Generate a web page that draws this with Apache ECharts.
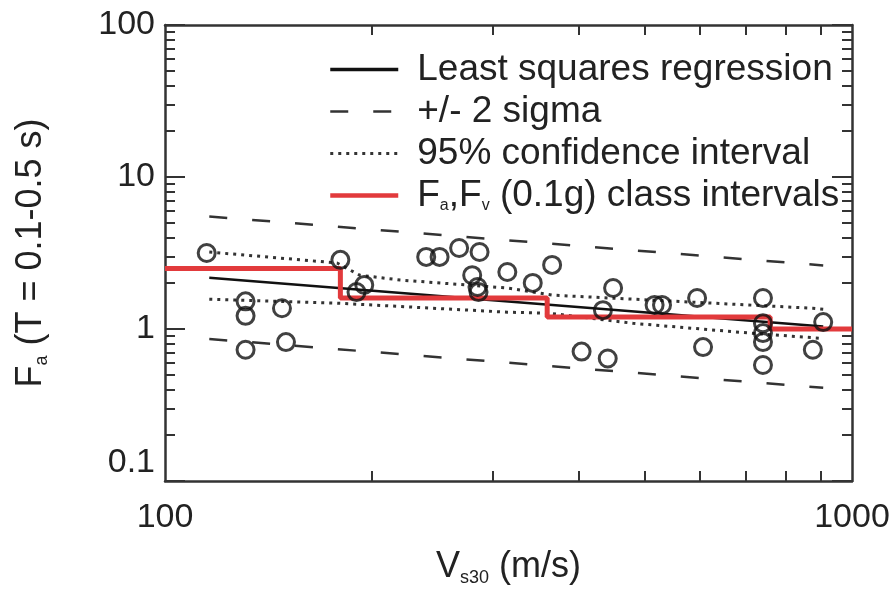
<!DOCTYPE html>
<html>
<head>
<meta charset="utf-8">
<script src="https://cdn.jsdelivr.net/npm/echarts@6/dist/echarts.min.js"></script>
<style>
  html, body { margin: 0; padding: 0; background: #fff; }
  #chart { width: 896px; height: 599px; }
</style>
</head>
<body>
<div id="chart"></div>
<script>
// site data: Vs30 (m/s) and Fa
var siteVs = [115, 131, 131, 131, 148, 150, 180, 190, 195, 240, 251, 268, 287, 280, 285, 286,
  315, 343, 366, 404, 441, 449, 434, 516, 529, 595, 607, 742, 742, 742, 742, 742, 908, 877];
var siteFa = [3.16, 1.52, 1.22, 0.73, 1.37, 0.82, 2.85, 1.75, 1.95, 2.98, 2.98, 3.41, 3.21, 2.26, 1.89, 1.75,
  2.37, 2.01, 2.64, 0.71, 0.64, 1.86, 1.33, 1.44, 1.44, 1.60, 0.76, 1.60, 1.09, 0.94, 0.82, 0.58, 1.11, 0.73];

// least squares regression and +/- 2 sigma (end points)
var regVs = [116, 908];
var regFa = [2.17, 1.04];
var sigmaUpFa = [5.5, 2.62];
var sigmaLoFa = [0.86, 0.41];

// 95% confidence interval
var ciUpVs = [116, 178, 192, 220, 315, 367, 877, 908];
var ciUpFa = [3.21, 2.72, 2.26, 2.10, 1.86, 1.67, 1.37, 1.35];
var ciLoVs = [116, 178, 315, 363, 480, 710, 897, 908];
var ciLoFa = [1.57, 1.48, 1.29, 1.27, 1.09, 0.94, 0.87, 0.86];

// NEHRP class intervals (0.1g)
var classBounds = [100, 180, 360, 760, 1000];
var classFa = [2.5, 1.6, 1.2, 1.0];

var font = '"Liberation Sans", Arial, Helvetica, sans-serif';
var ink = '#222';

function pairs(xs, ys) {
  var out = [];
  for (var i = 0; i < xs.length; i++) out.push([xs[i], ys[i]]);
  return out;
}

var stepPts = [];
for (var i = 0; i < classFa.length; i++) {
  stepPts.push([classBounds[i], classFa[i]]);
  stepPts.push([classBounds[i + 1], classFa[i]]);
}

// tick positions for the log decorations (log10 units)
var xMinor = [];
for (var k = 2; k <= 9; k++) xMinor.push(2 + Math.log10(k));
var yMinor = [];
for (var d = -1; d <= 1; d++) {
  for (var k2 = 2; k2 <= 9; k2++) yMinor.push(d + Math.log10(k2));
}

var frameLine = { show: true, onZero: false, lineStyle: { color: '#333', width: 2.5 } };

function tickAxis(min, max, pos, vals, len) {
  return {
    type: 'value', min: min, max: max, position: pos,
    axisLine: { show: false, onZero: false },
    axisTick: { show: true, inside: true, length: len, customValues: vals, lineStyle: { color: '#333', width: 2 } },
    axisLabel: { show: false },
    splitLine: { show: false }
  };
}

var chart = echarts.init(document.getElementById('chart'));

chart.setOption({
  backgroundColor: '#fff',
  animation: false,
  grid: { left: 165, right: 44, top: 25, bottom: 118, outerBoundsMode: 'none' },
  legend: {
    orient: 'vertical',
    left: 323,
    top: 46,
    itemWidth: 68,
    itemHeight: 14,
    itemGap: 5,
    itemStyle: { opacity: 0 },
    data: [
      { name: 'Least squares regression', lineStyle: { width: 3.5 } },
      { name: '+/- 2 sigma', lineStyle: { width: 2.5 } },
      { name: '95% confidence interval', lineStyle: { width: 3 } },
      { name: 'Fa,Fv (0.1g) class intervals', lineStyle: { width: 4.5 } }
    ],
    formatter: function (name) {
      if (name.indexOf('Fa,Fv') === 0) return 'F{sub|a},F{sub|v} (0.1g) class intervals';
      return name;
    },
    textStyle: {
      fontFamily: font, fontSize: 37, color: ink, lineHeight: 36, padding: [0, 0, 0, 14],
      rich: { sub: { fontFamily: font, fontSize: 16, color: ink, verticalAlign: 'bottom', lineHeight: 36 } }
    }
  },
  xAxis: [
    {
      type: 'log', logBase: 10, min: 100, max: 1000, position: 'bottom',
      axisLine: frameLine,
      axisTick: { show: false },
      axisLabel: {
        fontFamily: font, fontSize: 34, color: ink, margin: 20,
        formatter: function (v) { return String(Math.round(v)); }
      },
      splitLine: { show: false },
      name: 'V{sub|s30} (m/s)',
      nameLocation: 'middle',
      nameGap: 66,
      nameTextStyle: {
        fontFamily: font, fontSize: 36, color: ink,
        rich: { sub: { fontFamily: font, fontSize: 18, color: ink, verticalAlign: 'bottom', lineHeight: 40 } }
      }
    },
    { type: 'log', logBase: 10, min: 100, max: 1000, position: 'top', axisLine: frameLine,
      axisTick: { show: false }, axisLabel: { show: false }, splitLine: { show: false } },
    tickAxis(2, 3, 'bottom', xMinor, 10),
    tickAxis(2, 3, 'top', xMinor, 10)
  ],
  yAxis: [
    {
      type: 'log', logBase: 10, min: 0.1, max: 100, position: 'left',
      axisLine: frameLine,
      axisTick: { show: true, inside: true, length: 20, lineStyle: { color: '#333', width: 2 } },
      axisLabel: {
        fontFamily: font, fontSize: 34, color: ink, margin: 10,
        formatter: function (v) {
          if (v < 0.5) return '{low|0.1}';
          return String(Math.round(v));
        },
        rich: { low: { fontFamily: font, fontSize: 34, color: ink, padding: [0, 0, 36, 0] } }
      },
      splitLine: { show: false },
      name: 'F{sub|a} (T = 0.1-0.5 s)',
      nameLocation: 'middle',
      nameGap: 114,
      nameRotate: 90,
      nameTextStyle: {
        fontFamily: font, fontSize: 36, color: ink,
        rich: { sub: { fontFamily: font, fontSize: 18, color: ink, verticalAlign: 'bottom', lineHeight: 40 } }
      }
    },
    { type: 'log', logBase: 10, min: 0.1, max: 100, position: 'right', axisLine: frameLine,
      axisTick: { show: true, inside: true, length: 20, lineStyle: { color: '#333', width: 2 } },
      axisLabel: { show: false }, splitLine: { show: false } },
    tickAxis(-1, 2, 'left', yMinor, 10),
    tickAxis(-1, 2, 'right', yMinor, 10)
  ],
  series: [
    {
      name: '+/- 2 sigma', type: 'line', symbol: 'none', z: 2,
      data: pairs(regVs, sigmaUpFa),
      itemStyle: { color: '#333' },
      lineStyle: { color: '#333', width: 2.5, type: [18, 25] }
    },
    {
      name: '+/- 2 sigma', type: 'line', symbol: 'none', z: 2,
      data: pairs(regVs, sigmaLoFa),
      itemStyle: { color: '#333' },
      lineStyle: { color: '#333', width: 2.5, type: [18, 25] }
    },
    {
      name: '95% confidence interval', type: 'line', symbol: 'none', z: 2,
      data: pairs(ciUpVs, ciUpFa),
      itemStyle: { color: '#333' },
      lineStyle: { color: '#333', width: 3, type: [3, 5] }
    },
    {
      name: '95% confidence interval', type: 'line', symbol: 'none', z: 2,
      data: pairs(ciLoVs, ciLoFa),
      itemStyle: { color: '#333' },
      lineStyle: { color: '#333', width: 3, type: [3, 5] }
    },
    {
      name: 'Least squares regression', type: 'line', symbol: 'none', z: 3,
      data: pairs(regVs, regFa),
      itemStyle: { color: '#111' },
      lineStyle: { color: '#111', width: 2.5 }
    },
    {
      name: 'Fa,Fv (0.1g) class intervals', type: 'line', symbol: 'none', z: 4,
      data: stepPts,
      itemStyle: { color: '#e23a3c' },
      lineStyle: { color: '#e23a3c', width: 5 }
    },
    {
      name: 'sites', type: 'scatter', z: 5,
      symbol: 'circle', symbolSize: 17,
      data: pairs(siteVs, siteFa),
      itemStyle: { color: 'rgba(0,0,0,0)', borderColor: '#111', borderWidth: 3 }
    }
  ]
});
</script>
</body>
</html>
